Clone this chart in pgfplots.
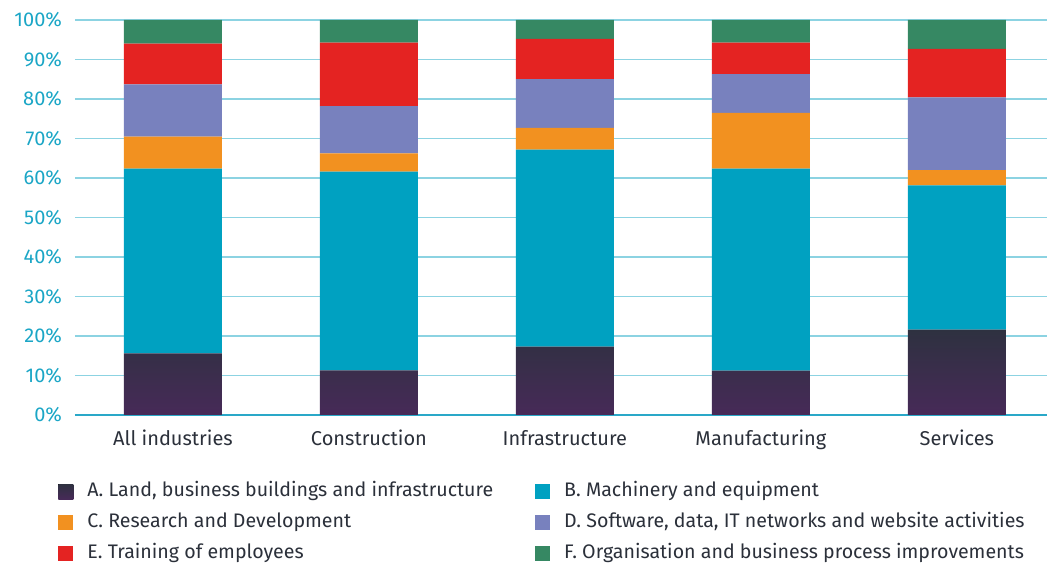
\documentclass[border=0pt]{standalone}
\usepackage{pgfplots}
\pgfplotsset{compat=1.18}
\usepackage{fontspec}
\setmainfont{Fira Sans}
\definecolor{cAtop}{HTML}{2E3140}
\definecolor{cAbot}{HTML}{472A58}
\definecolor{cB}{HTML}{00A1C1}
\definecolor{cC}{HTML}{F29120}
\definecolor{cD}{HTML}{7881BE}
\definecolor{cE}{HTML}{E42322}
\definecolor{cF}{HTML}{368863}
\definecolor{ticktxt}{HTML}{1BA6C6}
\definecolor{gridc}{HTML}{8CD3E2}
\definecolor{basec}{HTML}{2AA8C8}
\definecolor{txt}{HTML}{2B303A}

\begin{document}
\begin{tikzpicture}
\begin{axis}[
    scale only axis,
    width=486pt, height=197.5pt,
    ybar stacked, bar width=49pt,
    xmin=-0.5, xmax=4.46,
    ymin=0, ymax=100,
    xtick={0,1,2,3,4},
    xticklabels={All industries, Construction, Infrastructure, Manufacturing, Services},
    ytick={0,10,...,100},
    yticklabel={\pgfmathprintnumber{\tick}\%},
    /pgf/number format/assume math mode=true,
    major tick length=0pt,
    axis x line=bottom, axis y line=left,
    x axis line style={draw=basec, line width=1pt, -},
    y axis line style={draw=none},
    ymajorgrids, grid style={gridc, line width=0.7pt},
    yticklabel style={font=\fontsize{10}{12}\selectfont, color=ticktxt, xshift=-3pt},
    xticklabel style={font=\fontsize{10}{12}\selectfont, color=txt, yshift=-4pt},
    area legend,
    legend columns=2,
    legend cell align=left,
    legend image code/.code={\fill[#1] (0pt,-3.75pt) rectangle (7.5pt,3.75pt);},
    legend style={at={(rel axis cs:-0.0236,-0.1575)}, anchor=north west, draw=none,
        font=\fontsize{9.8}{12}\selectfont, text=txt,
        nodes={inner sep=0pt, text height=7.5pt, text depth=2.5pt},
        /tikz/row sep=5.5pt,
        /tikz/every odd column/.append style={column sep=7pt},
        /tikz/every even column/.append style={column sep=21pt}},
]
\addplot[draw=none, top color=cAtop, bottom color=cAbot] coordinates {(0,15.6) (1,11.3) (2,17.3) (3,11.2) (4,21.6)};
\addplot[draw=none, fill=cB] coordinates {(0,46.8) (1,50.3) (2,49.9) (3,51.2) (4,36.5)};
\addplot[draw=none, fill=cC] coordinates {(0,8.1) (1,4.6) (2,5.5) (3,14.1) (4,3.9)};
\addplot[draw=none, fill=cD] coordinates {(0,13.2) (1,12.0) (2,12.3) (3,9.8) (4,18.4)};
\addplot[draw=none, fill=cE] coordinates {(0,10.3) (1,16.1) (2,10.2) (3,8.0) (4,12.3)};
\addplot[draw=none, fill=cF] coordinates {(0,6.0) (1,5.7) (2,4.8) (3,5.7) (4,7.3)};
\legend{{A. Land, business buildings and infrastructure}, {B. Machinery and equipment},
  {C. Research and Development}, {D. Software, data, IT networks and website activities},
  {E. Training of employees}, {F. Organisation and business process improvements}}
\coordinate (bl) at (rel axis cs:0,0);
\coordinate (tr) at (rel axis cs:1,1);
\end{axis}
\pgfresetboundingbox
\path ([xshift=-37.5pt,yshift=-75pt]bl) rectangle ([yshift=10pt]tr);
\end{tikzpicture}
\end{document}
